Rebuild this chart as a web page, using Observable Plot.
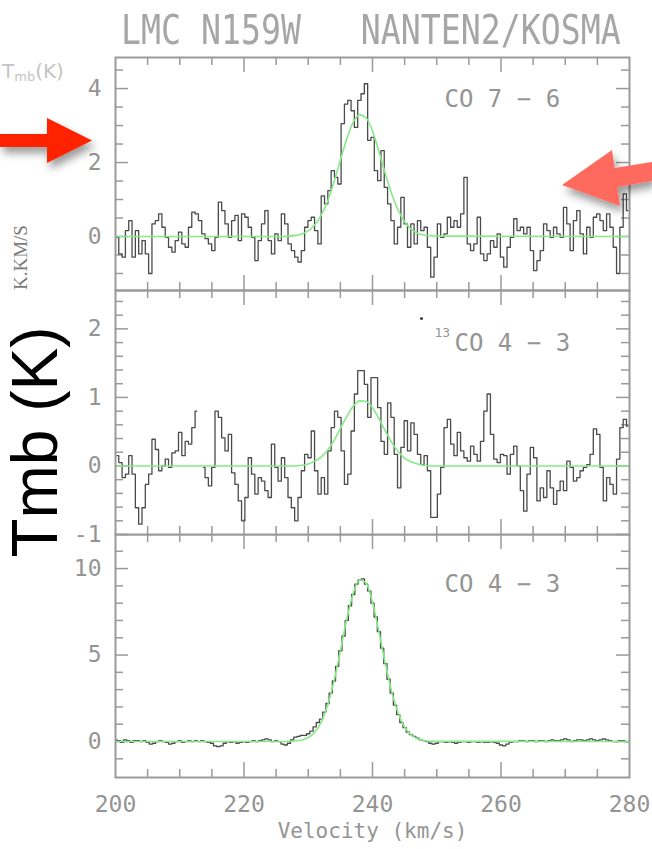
<!DOCTYPE html>
<html><head><meta charset="utf-8">
<script src="https://cdn.jsdelivr.net/npm/d3@7"></script>
<script src="https://cdn.jsdelivr.net/npm/@observablehq/plot@0.6"></script>
<style>
body{margin:0;background:#fff}
#root{position:relative;width:652px;height:849px;overflow:hidden;background:#fff}
.panel{position:absolute;left:0}
#title{position:absolute;left:121px;top:10px;font-family:"DejaVu Sans Mono";font-size:40px;line-height:40px;color:#a6a6a6;white-space:pre;transform:scaleX(0.83);transform-origin:0 0}
#overlay{position:absolute;left:0;top:0}
</style></head><body>
<div id="root">
  <div id="p1" class="panel" style="top:0"></div>
  <div id="p2" class="panel" style="top:290px"></div>
  <div id="p3" class="panel" style="top:534px"></div>
  <div id="title">LMC N159W   NANTEN2/KOSMA</div>
  <svg id="overlay" width="652" height="849">
    <defs>
      <filter id="sh" x="-30%" y="-40%" width="170%" height="200%">
        <feDropShadow dx="3" dy="6" stdDeviation="4" flood-color="#000" flood-opacity="0.4"/>
      </filter>
    </defs>
    <text x="2" y="78" font-family="DejaVu Sans" font-size="20" fill="#c4c4c4">T<tspan font-size="13" dy="3">mb</tspan><tspan font-size="20" dy="-3">(K)</tspan></text>
    <text transform="translate(27,290) rotate(-90)" font-family="Liberation Serif" font-size="19" fill="#7a7a7a">K.KM/S</text>
    <text transform="translate(57,442) rotate(-90)" text-anchor="middle" font-family="Liberation Sans" font-size="64" fill="#000">Tmb (K)</text>
    <polygon filter="url(#sh)" fill="#ff2200" points="0,134 47,134 47,118 92,140.5 47,163 47,147 0,147"/>
    <polygon filter="url(#sh)" fill="#ff6b5f" points="562,185 612,150 614.6,168 652,162 652,181 617.3,187 620,206"/>
  </svg>
</div>
<script>
// ---- data ----
// CO 7-6 spectrum (Tmb, K), channels from 200.25 km/s, spacing 0.5165 km/s
const co76Start = 200.25, co76Step = 0.5165;
const co76 = [
 -0.02,-0.47,-0.56,0.16,0.43,-0.56,0.16,-0.47,-0.11,-0.47,
 -1.0,0.34,0.43,0.61,0.25,-0.02,-0.29,-0.42,-0.11,0.12,
 -0.2,-0.29,0.25,0.66,0.61,0.43,0.07,-0.06,-0.2,-0.38,
 -0.02,0.93,0.7,0.34,-0.02,0.43,0.57,-0.11,0.61,0.52,
 0.25,-0.02,-0.65,-0.11,0.34,0.7,-0.11,-0.47,0.07,-0.11,
 0.61,0.34,-0.2,-0.38,-0.56,-0.69,-0.38,0.25,0.43,0.52,
 0.16,-0.2,1.1,0.88,1.24,1.78,1.6,1.42,3.05,3.58,
 3.68,3.4,2.95,3.68,3.86,4.13,2.6,
 2.68,1.78,1.51,2.32,1.33,0.88,0.43,-0.2,0.25,1.06,
 0.34,-0.29,0.34,-0.2,0.43,0.16,0.25,-0.29,-1.1,-0.56,
 0.34,-0.02,0.07,0.52,0.25,0.43,0.25,0.61,1.6,-0.2,
 -0.38,-0.2,0.52,-0.47,-0.65,-0.47,-0.11,-0.29,0.07,-0.56,
 -0.83,-0.29,-0.02,0.48,0.16,0.25,0.07,0.25,-0.38,-0.92,
 -0.65,-0.38,0.34,0.16,-0.02,0.25,0.07,-0.02,0.79,0.34,
 -0.38,0.43,0.7,0.07,-0.47,0.25,-0.02,0.52,0.61,0.43,
 0.16,0.61,0.25,-0.29,-1.0,0.25,1.15,0.7
];
// 13CO 4-3 spectrum (one blanked channel = NaN)
const co13Start = 200.25, co13Step = 0.5165;
const co13 = [
 0.15,0.05,-0.17,-0.12,0.15,-0.12,-0.61,-0.85,-0.61,-0.27,
 -0.12,0.39,0.24,-0.07,0.0,0.10,-0.02,0.19,0.22,0.49,
 0.15,0.36,0.32,0.56,0.80,NaN,-0.02,-0.17,-0.29,-0.02,
 0.80,0.71,0.41,0.22,0.46,-0.10,-0.27,-0.51,-0.80,-0.46,
 0.12,-0.12,-0.41,-0.17,-0.22,-0.36,-0.46,0.32,-0.02,-0.22,
 0.12,-0.17,-0.46,-0.61,-0.80,-0.46,-0.07,0.17,0.12,0.51,
 -0.07,-0.41,-0.17,-0.41,0.22,0.56,0.80,0.71,0.22,-0.27,
 -0.12,0.51,1.05,1.39,1.39,1.19,0.71,
 1.29,1.29,0.85,0.36,0.17,0.92,0.71,0.17,-0.32,0.27,
 0.66,0.22,0.63,0.46,0.17,0.02,0.15,-0.07,-0.75,-0.75,
 -0.41,-0.02,0.56,0.68,0.32,0.15,0.49,0.22,0.12,0.07,
 0.29,0.17,0.07,0.36,0.80,1.05,0.46,0.10,0.05,0.17,
 0.15,-0.12,0.17,0.29,0.0,-0.36,-0.66,-0.12,0.27,0.12,
 -0.51,-0.32,-0.46,-0.07,-0.32,-0.56,-0.36,-0.22,-0.36,0.07,
 -0.02,-0.22,-0.17,-0.07,-0.02,0.02,0.17,0.54,0.46,-0.02,
 -0.51,-0.17,-0.27,-0.41,0.10,0.56,0.68,0.58
];
// CO 4-3 spectrum, 200..280 km/s every 0.5 km/s
const co43Start = 200, co43Step = 0.5;
const co43 = [
 0.1,0.05,-0.05,0.1,0.05,-0.05,0.05,0.05,0.0,0.05,
 -0.05,-0.15,-0.1,0.0,0.05,0.0,-0.05,-0.15,-0.1,0.0,
 0.05,-0.05,0.0,0.05,0.0,0.05,0.0,0.05,0.0,-0.05,
 -0.1,-0.25,-0.3,-0.25,-0.1,0.0,-0.05,0.0,-0.1,-0.05,
 0.0,-0.05,0.0,0.05,0.0,0.05,0.1,0.15,0.1,0.0,
 0.05,0.0,-0.15,-0.2,-0.1,0.1,
 0.25,0.3,0.35,0.35,0.45,0.6,0.85,1.1,1.3,1.7,
 2.2,2.8,3.5,4.35,5.25,6.1,7.0,7.85,8.5,9.1,
 9.35,9.4,9.1,8.7,8.0,7.2,6.35,5.4,4.5,3.6,
 2.8,2.1,1.55,1.1,0.8,0.55,0.4,0.3,0.2,0.1,
 0.05,0.0,-0.1,-0.15,-0.1,0.0,0.0,-0.05,0.0,-0.05,
 -0.1,-0.05,0.0,0.0,-0.05,0.0,0.0,-0.05,0.0,-0.05,
 -0.05,0.0,-0.05,-0.1,-0.2,-0.25,-0.15,-0.05,0.0,0.0,
 0.05,0.05,0.0,0.05,0.05,0.0,0.05,0.05,0.0,0.05,
 0.1,0.05,0.05,0.1,0.15,0.1,0.0,0.05,0.1,0.1,
 0.05,0.1,0.15,0.1,0.05,0.1,0.15,0.1,0.05,0.0,
 0.0,0.05,0.05,0.0,0.0
];
// Gaussian fits (green), sampled
const fitVel = [200,226,227,228,229,230,231,232,233,234,235,236,237,238,239,240,241,242,243,244,245,246,247,248,249,250,280];
const fit76 = [0,0.00,0.01,0.03,0.07,0.15,0.31,0.57,0.95,1.47,2.06,2.64,3.09,3.29,3.21,2.85,2.30,1.70,1.15,0.71,0.40,0.20,0.09,0.04,0.02,0.01,0];
const fit13 = [0,0,0,0.00,0.01,0.03,0.07,0.13,0.23,0.37,0.55,0.72,0.87,0.95,0.94,0.85,0.69,0.51,0.34,0.21,0.11,0.06,0.03,0.01,0,0,0];
const fit43 = [0,0.00,0.01,0.03,0.09,0.23,0.54,1.11,2.08,3.48,5.24,7.08,8.58,9.35,9.16,8.05,6.35,4.50,2.87,1.64,0.84,0.39,0.16,0.06,0.02,0.01,0];
// ticks
const xMinor = [205,210,215,225,230,235,245,250,255,265,270,275];
const xMajor = [220,240,260];
const xLabels = [200,220,240,260,280];
const p1MinorY = [-1,-0.5,0.5,1,1.5,2.5,3,3.5,4.5], p1MajorY = [0,2,4], p1Labels = [0,2,4];
const p2MinorY = [-0.8,-0.6,-0.4,-0.2,0.2,0.4,0.6,0.8,1.2,1.4,1.6,1.8,2.2,2.4], p2MajorY = [-1,0,1,2], p2Labels = [-1,0,1,2];
const p3MinorY = [-1,1,2,3,4,6,7,8,9,11], p3MajorY = [0,5,10], p3Labels = [0,5,10];
const lineLabels = ["CO 7 − 6", "CO 4 − 3", "CO 4 − 3"];

const chan = (start, step, vals) => vals.map((t, i) => ({v: start + i * step, t}));
const fitRows = vals => vals.map((t, i) => ({v: fitVel[i], t}));

const W = 652, ML = 115, MR = 23;
const grey = "#9a9a9a", txt = "#949494";

function panel({data, fit, yDomain, height, marginTop, marginBottom, minorY, majorY, yLabels, extra = [], overflow = "visible"}) {
  const fw = W - ML - MR, fh = height - marginTop - marginBottom;
  const ts = {stroke: grey, strokeWidth: 1.5};
  return Plot.plot({
    width: W, height, marginLeft: ML, marginRight: MR, marginTop, marginBottom,
    x: {domain: [200, 280], axis: null},
    y: {domain: yDomain, axis: null},
    style: {fontFamily: "DejaVu Sans Mono", fontSize: "23px", color: txt, background: "transparent", overflow},
    marks: [
      Plot.tickY(minorY, {y: d => d, insetRight: fw - 8, ...ts}),
      Plot.tickY(minorY, {y: d => d, insetLeft: fw - 8, ...ts}),
      Plot.tickY(majorY, {y: d => d, insetRight: fw - 13, ...ts}),
      Plot.tickY(majorY, {y: d => d, insetLeft: fw - 13, ...ts}),
      Plot.tickX(xMinor, {x: d => d, insetTop: fh - 8, ...ts}),
      Plot.tickX(xMinor, {x: d => d, insetBottom: fh - 8, ...ts}),
      Plot.tickX(xMajor, {x: d => d, insetTop: fh - 15, ...ts}),
      Plot.tickX(xMajor, {x: d => d, insetBottom: fh - 15, ...ts}),
      Plot.line(data, {x: "v", y: "t", curve: "step", stroke: "#4a4a4a", strokeWidth: 1.3, clip: true}),
      Plot.line(fit, {x: "v", y: "t", curve: "monotone-x", stroke: "#86ea86", strokeWidth: 1.6, clip: true}),
      Plot.frame({stroke: grey, strokeWidth: 2}),
      Plot.axisY({ticks: yLabels, anchor: "left", tickSize: 0, tickPadding: 14, tickFormat: d => String(d), fill: txt, label: null}),
      ...extra
    ]
  });
}

const lbl = (text, dx, dy, size = 24) => Plot.text([text], {frameAnchor: "top-left", text: d => d, dx, dy, textAnchor: "start", lineAnchor: "bottom", fontSize: size, fill: txt});

document.getElementById("p1").append(panel({
  data: chan(co76Start, co76Step, co76), fit: fitRows(fit76),
  yDomain: [-1.46, 4.84], height: 290, marginTop: 57, marginBottom: 0,
  minorY: p1MinorY, majorY: p1MajorY, yLabels: p1Labels,
  extra: [lbl(lineLabels[0], 329, 49)]
}));

document.getElementById("p2").append(panel({
  data: chan(co13Start, co13Step, co13), fit: fitRows(fit13),
  yDomain: [-1.0, 2.56], height: 244, marginTop: 0, marginBottom: 0,
  minorY: p2MinorY, majorY: p2MajorY, yLabels: p2Labels,
  extra: [
    lbl("13", 319, 46, 13),
    lbl(lineLabels[1], 339, 60),
    Plot.dot([0], {frameAnchor: "top-left", dx: 306, dy: 28, r: 1.6, fill: "#444", stroke: "none"})
  ]
}));

document.getElementById("p3").append(panel({
  data: chan(co43Start, co43Step, co43), fit: fitRows(fit43),
  yDomain: [-2.08, 11.97], height: 308, marginTop: 0, marginBottom: 65,
  minorY: p3MinorY, majorY: p3MajorY, yLabels: p3Labels, overflow: "hidden",
  extra: [
    lbl(lineLabels[2], 329, 57),
    Plot.axisX({ticks: xLabels, anchor: "bottom", tickSize: 0, tickPadding: 18, tickFormat: d => String(d), fill: txt, label: null}),
    Plot.text(["Velocity (km/s)"], {frameAnchor: "bottom", text: d => d, dy: 46, lineAnchor: "top", fontSize: 21, fill: txt})
  ]
}));
</script>
</body></html>
